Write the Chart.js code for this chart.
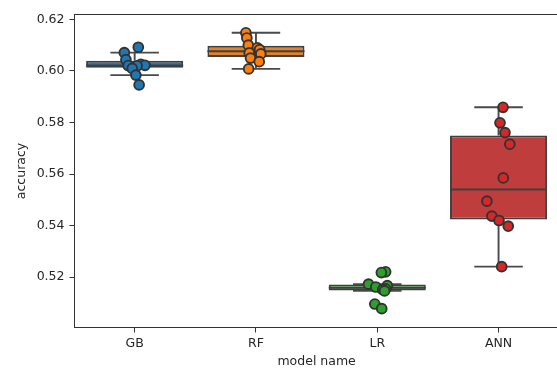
<!DOCTYPE html>
<html>
<head>
<meta charset="utf-8">
<script src="https://cdn.jsdelivr.net/npm/chart.js@4.4.1/dist/chart.umd.min.js"></script>
<style>
  html, body { margin: 0; padding: 0; background: #fff; overflow: hidden; }
  #wrap { position: absolute; left: 0; top: 0; width: 566px; height: 370px; }
</style>
</head>
<body>
<div id="wrap"><canvas id="chart"></canvas></div>
<script>
// accuracy per fold
const models = ['GB', 'RF', 'LR', 'ANN'];
const gbAcc  = [0.6092, 0.6071, 0.6044, 0.6026, 0.6022, 0.6021, 0.6020, 0.6010, 0.5984, 0.5946];
const rfAcc  = [0.6148, 0.6128, 0.6100, 0.6090, 0.6083, 0.6070, 0.6066, 0.6050, 0.6036, 0.6008];
const lrAcc  = [0.5221, 0.5218, 0.5173, 0.5167, 0.5162, 0.5155, 0.5152, 0.5147, 0.5096, 0.5078];
const annAcc = [0.5859, 0.5799, 0.5761, 0.5716, 0.5585, 0.5495, 0.5437, 0.5420, 0.5398, 0.5241];
// strip plot jitter (category units), as seen in the picture
const gbJitter  = [0.030, -0.085, -0.072, 0.051, 0.085, -0.053, 0.020, -0.020, 0.010, 0.037];
const rfJitter  = [-0.083, -0.075, -0.063, 0.012, 0.030, -0.055, 0.040, -0.045, 0.027, -0.060];
const lrJitter  = [0.069, 0.034, -0.072, 0.083, -0.012, 0.069, 0.045, 0.060, -0.020, 0.037];
const annJitter = [0.037, 0.012, 0.053, 0.093, 0.039, -0.096, -0.055, 0.004, 0.080, 0.026];
const yTicks = [0.52, 0.54, 0.56, 0.58, 0.60, 0.62];

const allAcc = [gbAcc, rfAcc, lrAcc, annAcc];
const allJitter = [gbJitter, rfJitter, lrJitter, annJitter];
const boxColors = ['#3274a1', '#e1812c', '#3a923a', '#c03d3e'];
const pointColors = ['#1f77b4', '#ff7f0e', '#2ca02c', '#d62728'];
const edgeColor = '#3f3f3f';
const font = { family: 'DejaVu Sans', size: 12.5 };

function quantile(sorted, q) {
    const pos = (sorted.length - 1) * q;
    const lo = Math.floor(pos), hi = Math.ceil(pos);
    return sorted[lo] + (sorted[hi] - sorted[lo]) * (pos - lo);
}

function boxStats(vals) {
    const s = [...vals].sort((a, b) => a - b);
    const q1 = quantile(s, 0.25), med = quantile(s, 0.5), q3 = quantile(s, 0.75);
    const iqr = q3 - q1;
    let lo = Math.min(...s.filter(v => v >= q1 - 1.5 * iqr));
    let hi = Math.max(...s.filter(v => v <= q3 + 1.5 * iqr));
    if (lo > q1) lo = q1;
    if (hi < q3) hi = q3;
    return { q1, med, q3, lo, hi };
}

const stats = allAcc.map(boxStats);

// whiskers, caps and medians on top of the boxes
const boxLines = {
    id: 'boxLines',
    afterDatasetDraw(chart, args) {
        if (args.index !== 0) return;
        const { ctx, scales: { x, y } } = chart;
        ctx.save();
        ctx.strokeStyle = '#4a4a4a';
        ctx.lineWidth = 1.9;
        stats.forEach((s, i) => {
            const cx = x.getPixelForValue(i);
            const half = x.getPixelForValue(i + 0.4) - cx;
            const cap = half / 2;
            ctx.beginPath();
            ctx.moveTo(cx, y.getPixelForValue(s.q3));
            ctx.lineTo(cx, y.getPixelForValue(s.hi));
            ctx.moveTo(cx, y.getPixelForValue(s.q1));
            ctx.lineTo(cx, y.getPixelForValue(s.lo));
            ctx.moveTo(cx - cap, y.getPixelForValue(s.hi));
            ctx.lineTo(cx + cap, y.getPixelForValue(s.hi));
            ctx.moveTo(cx - cap, y.getPixelForValue(s.lo));
            ctx.lineTo(cx + cap, y.getPixelForValue(s.lo));
            ctx.stroke();
            ctx.strokeStyle = edgeColor;
            ctx.beginPath();
            ctx.moveTo(cx - half, y.getPixelForValue(s.med));
            ctx.lineTo(cx + half, y.getPixelForValue(s.med));
            ctx.stroke();
            ctx.strokeStyle = '#4a4a4a';
        });
        ctx.restore();
    },
    afterDraw(chart) {
        const { ctx, chartArea: a } = chart;
        ctx.save();
        ctx.strokeStyle = '#333';
        ctx.lineWidth = 1;
        ctx.strokeRect(Math.round(a.left) + 0.5, Math.round(a.top) + 0.5,
            Math.round(a.right - a.left) - 1, Math.round(a.bottom - a.top) - 1);
        ctx.restore();
    }
};

const datasets = [{
    type: 'bar',
    data: stats.map((s, i) => ({ x: i, y: [s.q1, s.q3] })),
    backgroundColor: boxColors,
    borderColor: edgeColor,
    borderWidth: 2,
    borderSkipped: false,
    categoryPercentage: 0.8,
    barPercentage: 1,
    order: 2
}];

allAcc.forEach((acc, i) => {
    datasets.push({
        type: 'scatter',
        data: acc.map((v, j) => ({ x: i + allJitter[i][j], y: v })),
        backgroundColor: pointColors[i],
        borderColor: '#333',
        borderWidth: 1.9,
        pointRadius: 4.9,
        order: 1
    });
});

new Chart(document.getElementById('chart'), {
    type: 'bar',
    data: { datasets },
    options: {
        responsive: true,
        maintainAspectRatio: false,
        animation: false,
        layout: { padding: { top: 14, right: 0, left: 0, bottom: 0 } },
        plugins: { legend: { display: false }, tooltip: { enabled: false } },
        scales: {
            x: {
                type: 'linear',
                min: -0.5,
                max: 3.5,
                offset: false,
                afterFit: (scale) => { scale.height = 42; },
                afterBuildTicks: (scale) => { scale.ticks = models.map((m, i) => ({ value: i })); },
                grid: { display: true, drawOnChartArea: false, offset: false, tickLength: 4.5, tickColor: '#333', tickWidth: 1 },
                border: { display: false },
                ticks: { color: '#262626', font, padding: 4, maxRotation: 0, callback: (v) => models[v] },
                title: { display: true, text: 'model name', color: '#262626', font, padding: { top: 0, bottom: 1 } }
            },
            y: {
                min: 0.5003,
                max: 0.6221,
                afterFit: (scale) => { scale.width = 74; },
                afterBuildTicks: (scale) => { scale.ticks = yTicks.map(v => ({ value: v })); },
                grid: { display: true, drawOnChartArea: false, tickLength: 4.5, tickColor: '#333', tickWidth: 1 },
                border: { display: false },
                ticks: { color: '#262626', font, padding: 5, callback: (v) => v.toFixed(2) },
                title: { display: true, text: 'accuracy', color: '#262626', font, padding: { top: 14, bottom: 0 } }
            }
        }
    },
    plugins: [boxLines]
});
</script>
</body>
</html>
